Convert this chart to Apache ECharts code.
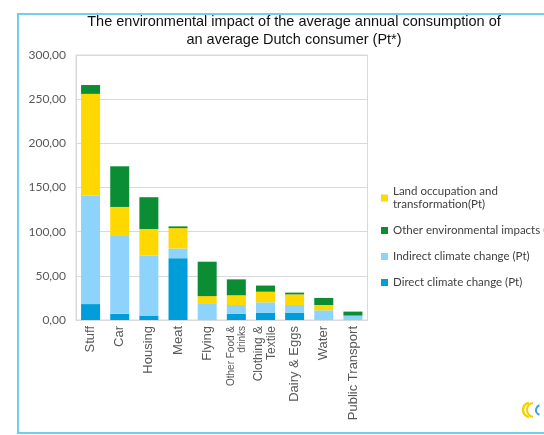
<!DOCTYPE html>
<html>
<head>
<meta charset="utf-8">
<script src="https://cdn.jsdelivr.net/npm/echarts@6/dist/echarts.min.js"></script>
<style>html,body{margin:0;padding:0;background:#fff;}#c{width:544px;height:435px;}</style>
</head>
<body>
<div id="c"></div>
<script>
const categories = ['Stuff','Car','Housing','Meat','Flying','Other Food &\ndrinks','Clothing &\nTextile','Dairy & Eggs','Water','Public Transport'];
const direct   = [18, 7, 5, 70, 0, 7, 8, 8, 0, 0];
const indirect = [123, 88, 68, 11, 19, 10, 12, 9, 11, 5];
const land     = [115, 33, 30, 23, 8, 11, 12, 12, 6, 0];
const other    = [10, 46, 36, 2, 39, 18, 7, 2, 8, 4.5];
const seriesNames = ['Direct climate change (Pt)','Indirect climate change (Pt)','Land occupation and\ntransformation(Pt)','Other environmental impacts (Pt)'];
const yTicks = [0, 50, 100, 150, 200, 250, 300];

const colors = ['#009ddb', '#8dd3fb', '#ffd800', '#0a8d33'];
const chart = echarts.init(document.getElementById('c'));
const mk = (name, data, color) => ({
  name, type: 'bar', stack: 'total', data, barWidth: 19,
  itemStyle: { color }
});
chart.setOption({
  animation: false,
  title: {
    text: 'The environmental impact of the average annual consumption of\nan average Dutch consumer (Pt*)',
    left: 289, top: 8, textAlign: 'center',
    textStyle: { fontFamily: 'Liberation Sans, Arial', fontSize: 14.5, fontWeight: 'normal', color: '#111', lineHeight: 18 }
  },
  legend: {
    orient: 'vertical', left: 376, top: 180,
    itemWidth: 7, itemHeight: 7, itemGap: 13, icon: 'rect',
    data: [seriesNames[2], seriesNames[3], seriesNames[1], seriesNames[0]],
    textStyle: { fontFamily: 'Lato, Open Sans', fontSize: 11.5, color: '#404040', lineHeight: 13 }
  },
  grid: { left: 76, right: 176.5, top: 55, bottom: 115, show: true, borderColor: '#d9d9d9', borderWidth: 1 },
  xAxis: {
    type: 'category', data: categories,
    axisLine: { lineStyle: { color: '#d9d9d9' } },
    axisTick: { show: false },
    axisLabel: {
      rotate: 90, interval: 0, margin: 6, color: '#595959',
      fontFamily: 'Liberation Sans, Arial', fontSize: 13,
      formatter: (v) => v.indexOf('\n') >= 0 ? (v.startsWith('Other') ? '{s|' + v.replace('\n', '}\n{s|') + '}' : '{m|' + v.replace('\n', '}\n{m|') + '}') : v,
      rich: {
        s: { fontSize: 10, color: '#595959', fontFamily: 'Liberation Sans, Arial', lineHeight: 11 },
        m: { fontSize: 12, color: '#595959', fontFamily: 'Liberation Sans, Arial', lineHeight: 13 }
      }
    }
  },
  yAxis: {
    type: 'value', min: yTicks[0], max: yTicks[yTicks.length - 1], interval: 50,
    axisLine: { show: true, lineStyle: { color: '#d9d9d9' } },
    axisTick: { show: false },
    splitLine: { lineStyle: { color: '#d9d9d9' } },
    axisLabel: {
      margin: 10, color: '#595959', fontFamily: 'Lato, Open Sans', fontSize: 12,
      formatter: (v) => v.toFixed(2).replace('.', ',')
    }
  },
  series: [
    mk(seriesNames[0], direct, colors[0]),
    mk(seriesNames[1], indirect, colors[1]),
    mk(seriesNames[2], land, colors[2]),
    mk(seriesNames[3], other, colors[3])
  ],
  graphic: [
    { type: 'rect', shape: { x: 18, y: 14, width: 560, height: 419 }, style: { fill: 'none', stroke: '#74cdee', lineWidth: 2 }, silent: true },
    { type: 'arc', shape: { cx: 530, cy: 410, r: 7, startAngle: Math.PI * 0.55, endAngle: Math.PI * 1.45 }, style: { fill: 'none', stroke: '#f5d000', lineWidth: 2.5 } },
    { type: 'arc', shape: { cx: 534, cy: 410, r: 7, startAngle: Math.PI * 0.55, endAngle: Math.PI * 1.45 }, style: { fill: 'none', stroke: '#f5d000', lineWidth: 2 } },
    { type: 'arc', shape: { cx: 541, cy: 410, r: 5, startAngle: Math.PI * 0.6, endAngle: Math.PI * 1.4 }, style: { fill: 'none', stroke: '#3aa0e0', lineWidth: 2 } }
  ]
});
</script>
</body>
</html>
